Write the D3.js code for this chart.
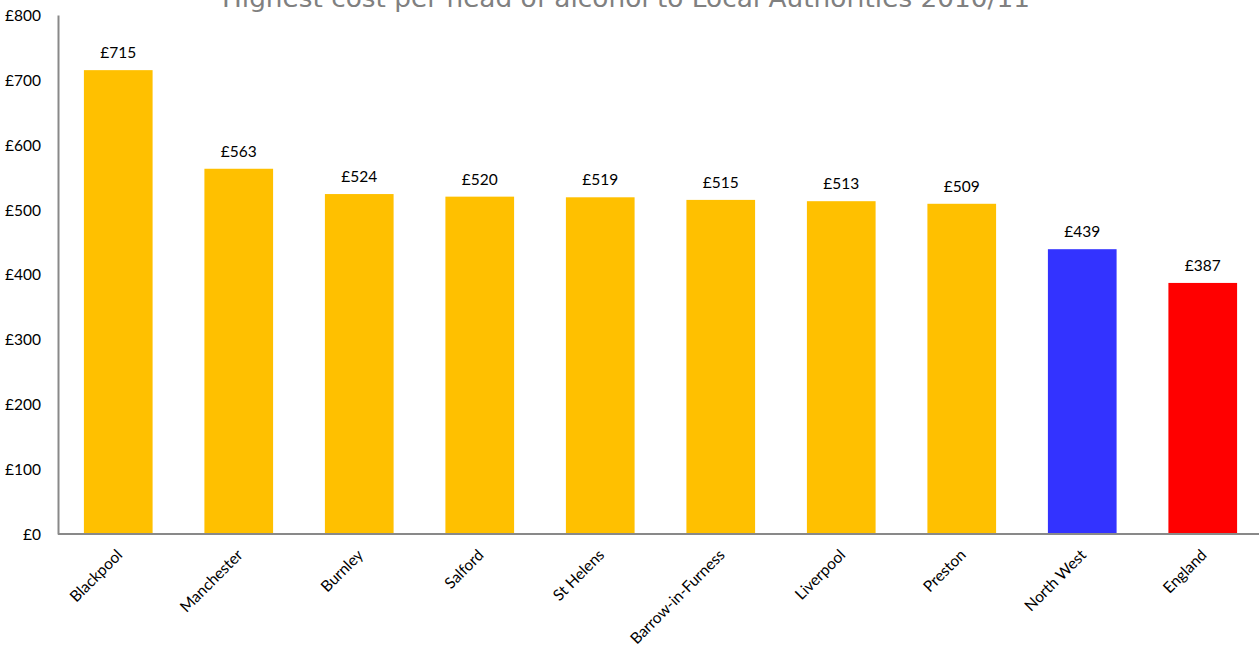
<!DOCTYPE html>
<html>
<head>
<meta charset="utf-8">
<script src="https://cdn.jsdelivr.net/npm/d3@7"></script>
<style>
  html, body { margin: 0; padding: 0; background: #fff; }
  svg { display: block; }
</style>
</head>
<body>
<svg id="chart" width="1259" height="648"></svg>
<script>
// Cost per head of alcohol, 2010/11
const categories = ["Blackpool", "Manchester", "Burnley", "Salford", "St Helens",
  "Barrow-in-Furness", "Liverpool", "Preston", "North West", "England"];
const costs = [715, 563, 524, 520, 519, 515, 513, 509, 439, 387];
const barColors = ["#ffc000", "#ffc000", "#ffc000", "#ffc000", "#ffc000",
  "#ffc000", "#ffc000", "#ffc000", "#3333ff", "#ff0000"];
const yTicks = [0, 100, 200, 300, 400, 500, 600, 700, 800];
const title = "Highest cost per head of alcohol to Local Authorities 2010/11";

const svg = d3.select("#chart");
const plot = { left: 58, right: 1263, top: 15, bottom: 534 };

const x = d3.scaleBand().domain(categories).range([plot.left, plot.right]).paddingInner(0.43).paddingOuter(0.215);
const y = d3.scaleLinear().domain([0, 800]).range([plot.bottom, plot.top]);

const labelFont = "Lato, 'Open Sans', sans-serif";

// Title, sitting high so that its upper part runs off the top edge
svg.append("text")
  .attr("x", 626).attr("y", 7)
  .attr("text-anchor", "middle")
  .attr("font-family", "'DejaVu Sans', sans-serif")
  .attr("font-size", 25)
  .attr("textLength", 808)
  .attr("lengthAdjust", "spacingAndGlyphs")
  .attr("fill", "#808080")
  .text(title);

// Bars
svg.append("g").selectAll("rect")
  .data(costs)
  .join("rect")
  .attr("x", (d, i) => x(categories[i]))
  .attr("y", d => y(d))
  .attr("width", x.bandwidth())
  .attr("height", d => y(0) - y(d))
  .attr("fill", (d, i) => barColors[i]);

// Value labels
svg.append("g").selectAll("text")
  .data(costs)
  .join("text")
  .attr("x", (d, i) => x(categories[i]) + x.bandwidth() / 2)
  .attr("y", d => y(d) - 12)
  .attr("text-anchor", "middle")
  .attr("font-family", labelFont)
  .attr("font-size", 15.5)
  .attr("fill", "#000")
  .text(d => "£" + d);

// Y axis
const yAxis = svg.append("g")
  .attr("transform", `translate(${plot.left},0)`)
  .call(d3.axisLeft(y).tickValues(yTicks).tickSize(0).tickPadding(17).tickFormat(d => "£" + d));
yAxis.select(".domain").attr("stroke", "#898989").attr("stroke-width", 2);
yAxis.selectAll("text")
  .attr("font-family", labelFont)
  .attr("font-size", 15.5)
  .attr("fill", "#000")
  .attr("dy", "0.35em");

// X axis
const xAxis = svg.append("g")
  .attr("transform", `translate(0,${plot.bottom})`)
  .call(d3.axisBottom(x).tickSize(0).tickPadding(0));
xAxis.select(".domain").attr("stroke", "#898989").attr("stroke-width", 2)
  .attr("d", `M${plot.left},0H1259`);
xAxis.selectAll("text")
  .attr("font-family", labelFont)
  .attr("font-size", 15.5)
  .attr("fill", "#000")
  .attr("text-anchor", "end")
  .attr("dy", null)
  .attr("y", 0)
  .attr("transform", "translate(5,22) rotate(-45)");
</script>
</body>
</html>
